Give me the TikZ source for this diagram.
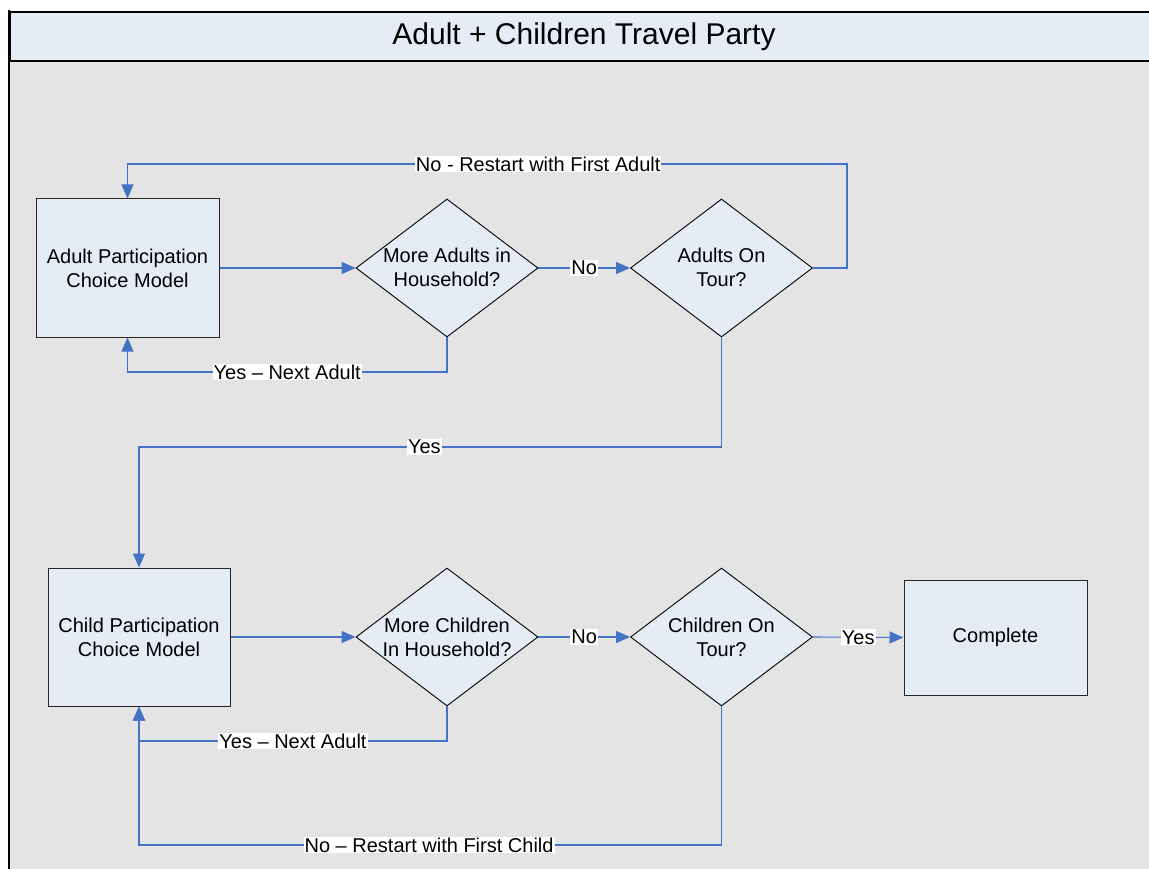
\documentclass[tikz,border=0pt]{standalone}
\usepackage{fontspec}
\setmainfont{Liberation Sans}
\usetikzlibrary{shapes.geometric,arrows.meta}
\definecolor{bgrey}{HTML}{E4E4E4}
\definecolor{boxfill}{HTML}{E6ECF6}
\definecolor{conblue}{HTML}{4472C4}
\tikzset{
  procbox/.style={rectangle, draw=black!85, line width=1pt, fill=boxfill, inner sep=0pt, font=\fontsize{20}{24}\selectfont, align=center},
  decide/.style={diamond, draw=black, line width=0.9pt, fill=boxfill, inner sep=0pt, minimum width=182pt, minimum height=138pt},
  dtext/.style={font=\fontsize{20}{24}\selectfont, align=center, inner sep=0pt},
  conn/.style={draw=conblue, line width=1.1pt, -{Triangle[length=14pt,width=12pt]}},
  lbl/.style={fill=white, inner sep=1pt, font=\fontsize{20}{22}\selectfont, text=black},
}
\begin{document}
\begin{tikzpicture}[x=1pt,y=-1pt]
\useasboundingbox (0,0) rectangle (1149,869);
% background
\fill[white] (0,0) rectangle (1149,869);
\fill[bgrey] (9,11) rectangle (1149,869);
\node[draw=black, line width=1.5pt, fill=boxfill, minimum width=1150pt, minimum height=49pt, anchor=north west, inner sep=0pt] (title) at (9.5,11.5) {};
\node[font=\fontsize{30}{34}\selectfont, inner sep=0pt] (ttxt) at (584,37) {Adult + Children Travel Party};
\draw[black, line width=2.2pt] (9,10) -- (9,869);

% nodes
\node[procbox, minimum width=183pt, minimum height=138pt] (ab) at (127.5,268) {Adult Participation\\Choice Model};
\node[decide] (d1) at (447,268) {};
\node[dtext] (d1t) at (447,267) {More Adults in\\Household?};
\node[decide] (d2) at (721.5,268) {};
\node[dtext] (d2t) at (721.5,267) {Adults On\\Tour?};

\node[procbox, minimum width=182pt, minimum height=138pt] (cb) at (139,637) {Child Participation\\Choice Model};
\node[decide] (d3) at (447,637) {};
\node[dtext] (d3t) at (447,637) {More Children\\In Household?};
\node[decide] (d4) at (721.5,637) {};
\node[dtext] (d4t) at (721.5,637) {Children On\\Tour?};
\node[procbox, minimum width=183pt, minimum height=115pt] (comp) at (995.5,637.5) {Complete};

% coordinates for bends
\coordinate (c1) at (847,164);
\coordinate (c2) at (127.5,372);
\coordinate (c3) at (139,447);
\coordinate (c4) at (139,741);
\coordinate (c5) at (139,845);

% connectors
\draw[conn] (ab.east) -- (d1.west);
\draw[conn] (d1.east) -- node[lbl] {No} (d2.west);
\draw[conn] (d2.east) -| (c1) -| node[lbl, pos=0.2146] {No - Restart with First Adult} (ab.north);
\draw[conn] (d1.south) |- node[lbl, pos=0.75] {Yes – Next Adult} (c2) -- (ab.south);
\draw[conn] (d2.south) |- node[lbl, pos=0.755] {Yes} (c3) -- (cb.north);

\draw[conn] (cb.east) -- (d3.west);
\draw[conn] (d3.east) -- node[lbl] {No} (d4.west);
\draw[conn] (d4.east) -- node[lbl] {Yes} (comp.west);
\draw[conn] (d3.south) |- node[lbl, pos=0.75] {Yes – Next Adult} (c4) -- (cb.south);
\draw[conn] (d4.south) |- node[lbl, pos=0.751] {No – Restart with First Child} (c5) -- (cb.south);
\end{tikzpicture}
\end{document}
